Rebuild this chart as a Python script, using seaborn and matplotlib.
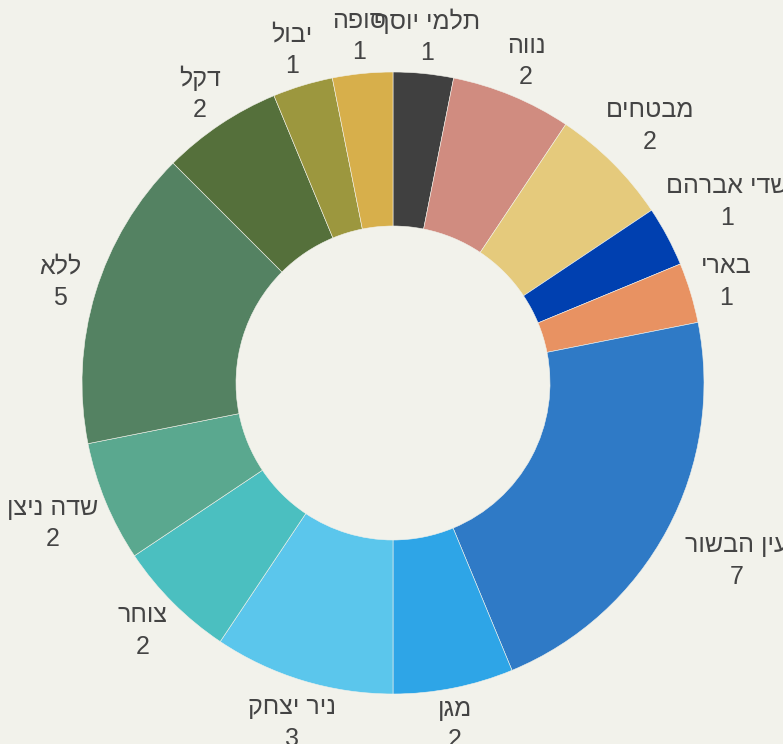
import numpy as np
import matplotlib
matplotlib.use("Agg")
import matplotlib.pyplot as plt
import seaborn as sns

# ---- data ----
categories = ["תלמי יוסף", "נווה", "מבטחים", "שדי אברהם", "בארי", "עין הבשור", "מגן",
              "ניר יצחק", "צוחר", "שדה ניצן", "ללא", "דקל", "יבול", "סופה"]
values = [1, 2, 2, 1, 1, 7, 2, 3, 2, 2, 5, 2, 1, 1]
colors = ["#404040", "#d08c80", "#e5ca7c", "#0040b0", "#e89262", "#2f7ac6", "#2ea5e7",
          "#5bc6ec", "#4bbfc0", "#5aa88f", "#548262", "#55703b", "#9c973e", "#d7af4b"]

BG = "#f2f2eb"
sns.set_theme(style="white", rc={"figure.facecolor": BG, "axes.facecolor": BG})
plt.rcParams["font.family"] = ["Liberation Sans", "DejaVu Sans"]

W, H = 783, 744
fig = plt.figure(figsize=(W / 100, H / 100), dpi=100)
ax = fig.add_axes([0, 0, 1, 1])
ax.set_facecolor(BG)

cx, cy = 393, H - 383
R, r_in = 311, 157

ax.pie(values, colors=colors, radius=R, center=(cx, cy), startangle=90,
       counterclock=False,
       wedgeprops=dict(width=R - r_in, edgecolor=BG, linewidth=0.4))

# label placement tweaks (pixels, +y = down) to mimic collision-avoidance in reference
label_shift = {"מבטחים": (11, -11), "שדי אברהם": (27, -17), "עין הבשור": (37, 14),
               "מגן": (-6, 0), "ניר יצחק": (0, 7), "צוחר": (-4, 2), "שדה ניצן": (-19, 7)}

total = sum(values)
cum = 0
for name, v in zip(categories, values):
    mid = (cum + v / 2) / total * 360.0
    cum += v
    th = np.deg2rad(mid)
    lr = 348
    x = cx + lr * np.sin(th)
    y = cy + lr * np.cos(th)
    dx, dy = label_shift.get(name, (0, 0))
    x += dx
    y -= dy
    visual = name[::-1]  # Hebrew is right-to-left; matplotlib lays glyphs left-to-right
    ax.text(x, y, f"{visual}\n{v}", ha="center", va="center", fontsize=18,
            color="#444444", linespacing=1.38, multialignment="center")

ax.set_xlim(0, W)
ax.set_ylim(0, H)
ax.set_aspect("equal")
ax.axis("off")

fig.savefig("out.png", dpi=100, facecolor=BG)
